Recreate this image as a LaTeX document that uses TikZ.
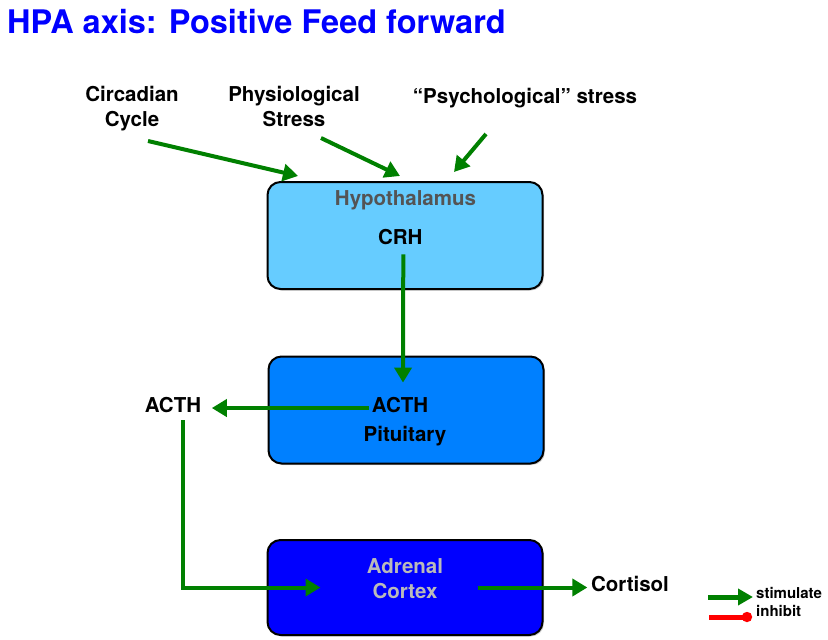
\documentclass[tikz,border=0pt]{standalone}
\usepackage{fontspec}
\setmainfont{TeX Gyre Heros}
\usetikzlibrary{arrows.meta, shadows}

\definecolor{hypoblue}{HTML}{66CCFF}
\definecolor{pitblue}{HTML}{0080FF}
\definecolor{adrblue}{HTML}{0000FF}
\definecolor{stimgreen}{HTML}{008000}
\definecolor{titleblue}{HTML}{0000FF}

\begin{document}
\begin{tikzpicture}[x=1pt, y=-1pt,
  lbl/.style={font=\fontsize{20.5}{24.5}\selectfont\bfseries, inner sep=0pt, align=center},
  organ/.style={draw=black, line width=2pt, rounded corners=13pt,
    minimum width=275pt, minimum height=107pt,
    drop shadow={shadow xshift=1.5pt, shadow yshift=-1.5pt, opacity=0.35}},
  stim/.style={draw=stimgreen, line width=4pt, -{Triangle[length=15pt, width=17pt]}},
  inhib/.style={draw=red, line width=5pt, -{Circle[length=10pt]}},
  key/.style={font=\fontsize{15}{18}\selectfont\bfseries, inner sep=0pt, anchor=base west}]
  \useasboundingbox (0,0) rectangle (828,640);

  \node[font=\fontsize{32.5}{38}\selectfont\bfseries, text=titleblue, inner sep=0pt,
    anchor=base west] (title) at (7,33) {HPA axis: Positive Feed forward};

  % the three organs
  \node[organ, fill=hypoblue] (hypo) at (405,235.5) {};
  \node[organ, fill=pitblue] (pit) at (406,410) {};
  \node[organ, fill=adrblue, minimum height=95pt] (adr) at (405,587.5) {};

  % inputs to the hypothalamus (base = last line)
  \node[lbl, anchor=base] (circ) at (132,126) {Circadian\\Cycle};
  \node[lbl, anchor=base] (phys) at (294,126) {Physiological\\Stress};
  \node[lbl, anchor=base] (psych) at (525,103) {``Psychological'' stress};

  % texts inside and beside the organs
  \node[lbl, anchor=base, text=black!67] (hypotxt) at (405.5,205) {Hypothalamus};
  \node[lbl, anchor=base] (crh) at (400.3,244) {CRH};
  \node[lbl, anchor=base] (acthin) at (400,412) {ACTH};
  \node[lbl, anchor=base] (pittxt) at (405,441) {Pituitary};
  \node[lbl, anchor=base] (acthout) at (173,412) {ACTH};
  \node[lbl, anchor=base, text=black!27] (adrtxt) at (405,598) {Adrenal\\Cortex};
  \node[lbl, anchor=base] (cort) at (630,591.5) {Cortisol};

  \coordinate (c1) at (148,141); % tail of circadian arrow
  \coordinate (c2) at (298,176); % its tip
  \coordinate (p1) at (321,138); % tail of physiological arrow
  \coordinate (p2) at (400,176);
  \coordinate (s1) at (486,134); % tail of psychological arrow
  \coordinate (s2) at (454,172);

  \draw[stim] (c1) -- (c2);
  \draw[stim] (p1) -- (p2);
  \draw[stim] (s1) -- (s2);

  % the cascade
  \draw[stim] ([xshift=3pt, yshift=-10pt]crh.south) -- ([xshift=3pt, yshift=14pt]acthin.north);
  \draw[stim, shorten >=10.5pt] ([xshift=-3pt, yshift=-3.5pt]acthin.west) -- ([yshift=-3.5pt]acthout.east);
  \draw[stim] ([xshift=10pt, yshift=-8pt]acthout.south) |- ([xshift=54pt]adr.west);
  \draw[stim, shorten >=3.5pt] ([xshift=-66pt]adr.east) -- (adr.east -| cort.west);

  % key
  \coordinate (k1) at (708,597);
  \coordinate (k2) at (753,597);
  \coordinate (k3) at (709,617);
  \coordinate (k4) at (752,617);
  \draw[stim, line width=5pt, -{Triangle[length=15pt, width=16pt]}] (k1) -- (k2);
  \draw[inhib] (k3) -- (k4);
  \node[key] (stimtxt) at (756,598) {stimulate};
  \node[key] (inhtxt) at (756,616.5) {inhibit};
\end{tikzpicture}
\end{document}
